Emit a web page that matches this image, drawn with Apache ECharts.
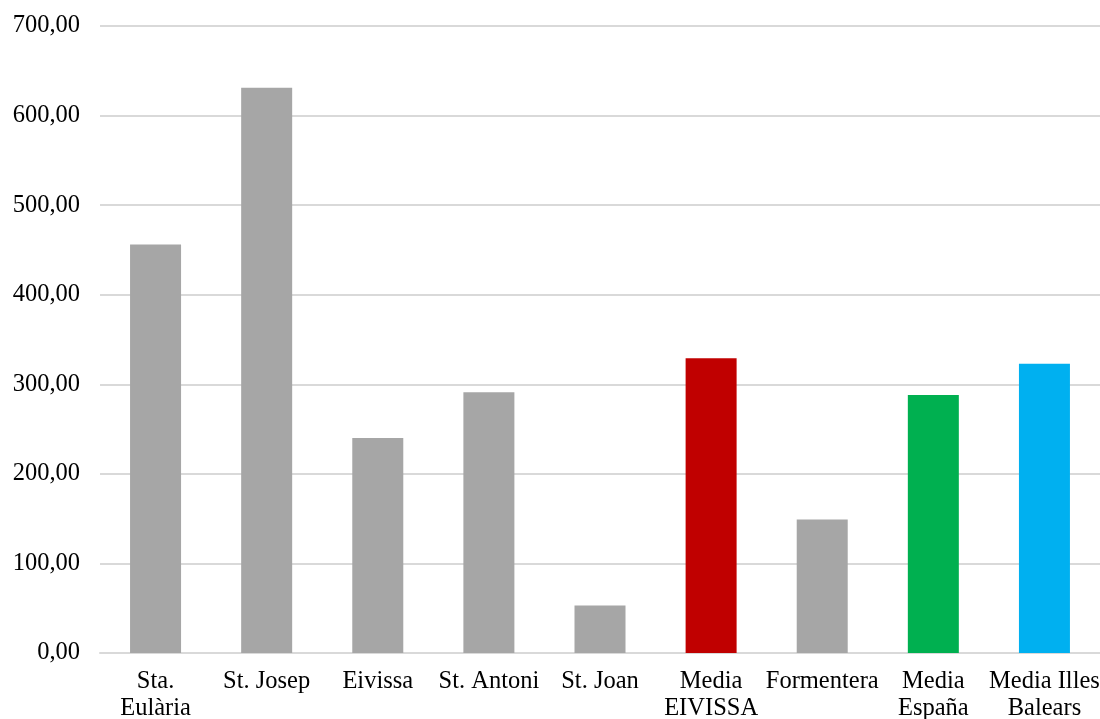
<!DOCTYPE html>
<html>
<head>
<meta charset="utf-8">
<script src="https://cdn.jsdelivr.net/npm/echarts@6/dist/echarts.min.js"></script>
<style>
html,body{margin:0;padding:0;background:#fff;}
#chart{width:1100px;height:719px;}
</style>
</head>
<body>
<div id="chart"></div>
<script>
const categories = ['Sta.\nEulària', 'St. Josep', 'Eivissa', 'St. Antoni', 'St. Joan', 'Media\nEIVISSA', 'Formentera', 'Media\nEspaña', 'Media Illes\nBalears'];
const values = [456, 631, 240, 291, 53, 329, 149, 288, 323];
const barColors = ['#a6a6a6', '#a6a6a6', '#a6a6a6', '#a6a6a6', '#a6a6a6', '#c00000', '#a6a6a6', '#00b050', '#00b0f0'];
const yTicks = { min: 0, max: 700, interval: 100 };

const chart = echarts.init(document.getElementById('chart'));
const font = '"Liberation Serif", "Times New Roman", serif';
chart.setOption({
  animation: false,
  backgroundColor: '#ffffff',
  grid: { left: 100, right: 0, top: 26, bottom: 66, containLabel: false, outerBoundsMode: 'none' },
  xAxis: {
    type: 'category',
    data: categories,
    axisLine: { show: true, lineStyle: { color: '#d9d9d9', width: 2 } },
    axisTick: { show: false },
    axisLabel: { color: '#000', fontFamily: font, fontSize: 24.5, lineHeight: 27, margin: 15, interval: 0 }
  },
  yAxis: {
    type: 'value',
    min: yTicks.min, max: yTicks.max, interval: yTicks.interval,
    axisLine: { show: false },
    axisTick: { show: false },
    splitLine: { lineStyle: { color: '#d9d9d9', width: 2 } },
    axisLabel: {
      color: '#000', fontFamily: font, fontSize: 24.5, margin: 20,
      formatter: v => v.toFixed(2).replace('.', ',')
    }
  },
  series: [{
    type: 'bar',
    data: values.map((v, i) => ({ value: v, itemStyle: { color: barColors[i] } })),
    barWidth: 51
  }]
});
</script>
</body>
</html>
